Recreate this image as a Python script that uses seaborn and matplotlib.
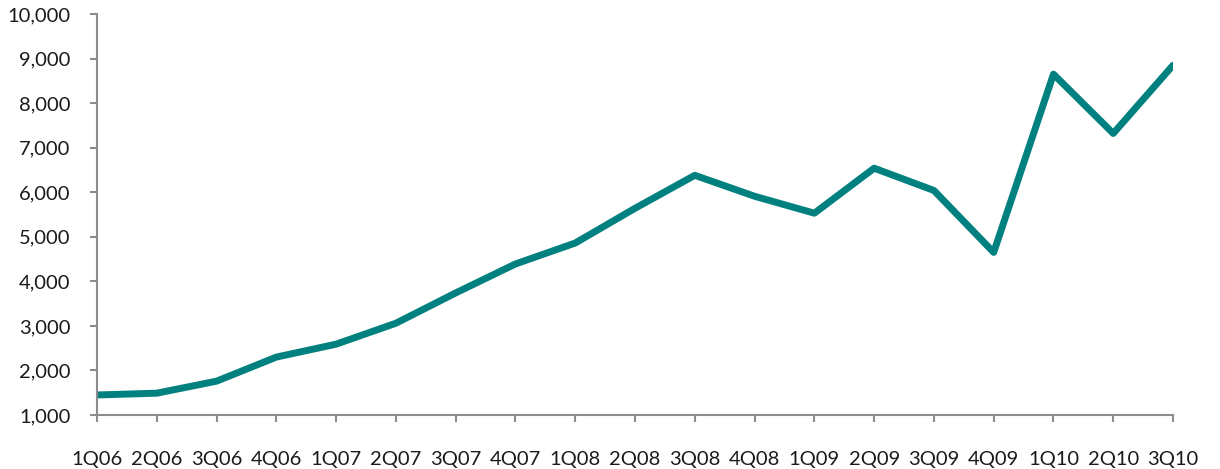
import matplotlib
matplotlib.use("Agg")
import matplotlib.pyplot as plt
from matplotlib.ticker import FuncFormatter
import seaborn as sns
import pandas as pd

quarters = ["1Q06", "2Q06", "3Q06", "4Q06", "1Q07", "2Q07", "3Q07", "4Q07",
            "1Q08", "2Q08", "3Q08", "4Q08", "1Q09", "2Q09", "3Q09", "4Q09",
            "1Q10", "2Q10", "3Q10"]
values = [1450, 1490, 1760, 2300, 2590, 3060, 3740, 4390,
          4860, 5640, 6380, 5910, 5530, 6540, 6040, 4650,
          8650, 7320, 8850]

sns.set_style("white")
plt.rcParams['font.family'] = ['Lato', 'DejaVu Sans']

df = pd.DataFrame({"quarter": quarters, "value": values})

fig = plt.figure(figsize=(12.2, 4.69), dpi=100)
ax = fig.add_axes([0.0795, 0.1151, 0.882, 0.855])
sns.lineplot(data=df, x="quarter", y="value", ax=ax, color="#00807f",
             linewidth=5, solid_joinstyle="round", solid_capstyle="round")

ax.set_xlim(0, len(quarters) - 1)
ax.set_ylim(1000, 10000)
ax.set_yticks(range(1000, 10001, 1000))
ax.yaxis.set_major_formatter(FuncFormatter(lambda v, p: f"{int(v):,}"))
ax.set_xlabel("")
ax.set_ylabel("")

for s in ["top", "right"]:
    ax.spines[s].set_visible(False)
for s in ["left", "bottom"]:
    ax.spines[s].set_color("#8c8c8c")
    ax.spines[s].set_linewidth(1.5)

ax.tick_params(axis="both", direction="out", length=5, width=1.5,
               color="#8c8c8c", labelsize=14.5, labelcolor="#1a1a1a")
ax.tick_params(axis="x", pad=21)
ax.tick_params(axis="y", pad=14)
ax.tick_params(left=True, bottom=True)

fig.savefig("out.png", dpi=100)
